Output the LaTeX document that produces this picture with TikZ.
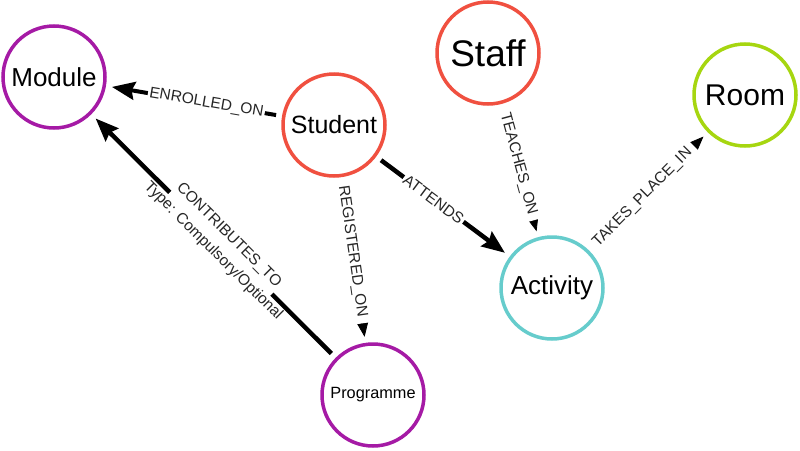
\documentclass[tikz,border=0pt]{standalone}
\usepackage{fontspec}
\setmainfont{Liberation Sans}
\usetikzlibrary{positioning, arrows.meta, calc}
\definecolor{moduleCol}{HTML}{A51AA5}
\definecolor{studentCol}{HTML}{F05040}
\definecolor{roomCol}{HTML}{A6D610}
\definecolor{activityCol}{HTML}{66CCCC}

\tikzset{
  entity/.style={circle, draw, line width=3.5pt, minimum size=102pt, inner sep=0pt, fill=white},
  rel/.style={line width=0.8pt, -{Triangle[length=14pt,width=11pt]}, shorten >=6pt, shorten <=6pt},
  strongrel/.style={line width=4.5pt, -{Stealth[length=23pt,width=18pt,inset=3pt]}, shorten >=6pt, shorten <=6pt},
  relname/.style={sloped, pos=0.43, fill=white, inner sep=1.5pt, text=black!85, font=\fontsize{15.5}{17}\selectfont}
}

\begin{document}
\begin{tikzpicture}[x=1pt, y=-1pt]
  \useasboundingbox (0,0) rectangle (800,450);

  % entities
  \foreach \name/\col/\x/\y/\fs in {
    Module/moduleCol/54/77/26,
    Student/studentCol/334/125/25,
    Staff/studentCol/488/53/37,
    Room/roomCol/745/95/30,
    Activity/activityCol/552/288/26,
    Programme/moduleCol/373/395/16.3
  }{
    \node[entity, draw=\col, font=\fontsize{\fs}{\fs}\selectfont] (\name) at (\x,\y) {\name};
  }

  % relationships
  \draw[strongrel, line width=4pt] (Student) -- node[relname] {ENROLLED\_ON} (Module);
  \draw[rel] (Student) -- node[relname, pos=0.45, inner xsep=6pt] {REGISTERED\_ON} (Programme);
  \draw[strongrel] (Student) -- node[relname] {ATTENDS} (Activity);
  \draw[rel] (Staff) -- node[relname, pos=0.45, inner xsep=6pt] {TEACHES\_ON} (Activity);
  \draw[rel] (Activity) -- node[relname, pos=0.45, inner xsep=6pt] {TAKES\_PLACE\_IN} (Room);
  \draw[strongrel] (Programme) -- node[relname, pos=0.47, align=center]
    {CONTRIBUTES\_TO\\[5pt]\makebox[0pt]{Type: Compulsory/Optional}} (Module);
\end{tikzpicture}
\end{document}
